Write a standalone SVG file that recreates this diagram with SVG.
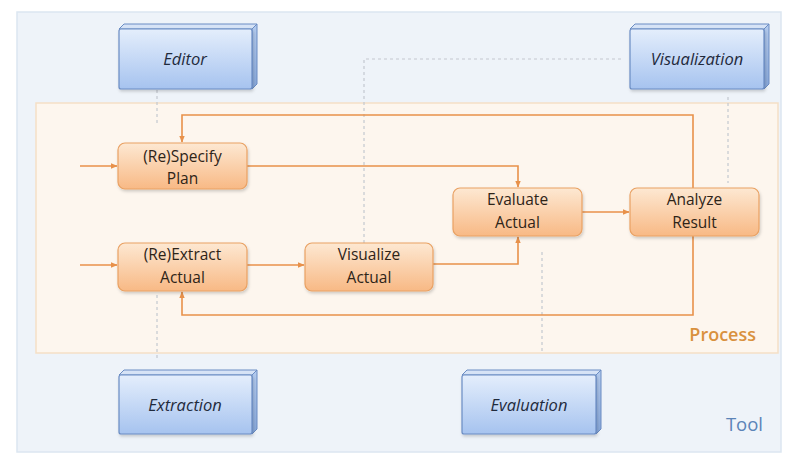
<svg xmlns="http://www.w3.org/2000/svg" width="786" height="461" viewBox="0 0 786 461">
  <defs>
    <linearGradient id="gStep" x1="0" y1="0" x2="0" y2="1">
      <stop offset="0" stop-color="#fde8d2"/>
      <stop offset="1" stop-color="#f8b985"/>
    </linearGradient>
    <linearGradient id="gTool" x1="0" y1="0" x2="0" y2="1">
      <stop offset="0" stop-color="#e4eefc"/>
      <stop offset="1" stop-color="#a6c3ef"/>
    </linearGradient>
    <linearGradient id="gSide" x1="0" y1="0" x2="0" y2="1">
      <stop offset="0" stop-color="#b4cbee"/>
      <stop offset="1" stop-color="#86a6d8"/>
    </linearGradient>
    <marker id="arr" viewBox="0 0 10 10" refX="9" refY="5" markerWidth="7" markerHeight="7" orient="auto" markerUnits="userSpaceOnUse">
      <path d="M0,1 L10,5 L0,9 z" fill="#e8914a"/>
    </marker>
    <filter id="sh" x="-10%" y="-10%" width="130%" height="140%">
      <feDropShadow dx="1" dy="2" stdDeviation="1.5" flood-color="#000" flood-opacity="0.18"/>
    </filter>
  </defs>
  <style>
    .step rect { fill: url(#gStep); stroke: #e9a163; stroke-width: 1.2; }
    .step text { font-family: "Open Sans", "Liberation Sans", sans-serif; font-size: 15.5px; fill: #2e2418; text-anchor: middle; }
    .tool .front { fill: url(#gTool); stroke: #6a8cc3; stroke-width: 1.2; }
    .tool .top { fill: #d6e3f6; stroke: #6a8cc3; stroke-width: 1; }
    .tool .side { fill: url(#gSide); stroke: #6a8cc3; stroke-width: 1; }
    .tool text { font-family: "Open Sans", "Liberation Sans", sans-serif; font-size: 16.5px; font-style: italic; fill: #1f2a3c; text-anchor: middle; }
    .flow { fill: none; stroke: #e8914a; stroke-width: 1.6; }
    .link { fill: none; stroke: #c3c8d0; stroke-width: 1.2; stroke-dasharray: 3 3; }
  </style>

  <rect width="786" height="461" fill="#ffffff"/>

  <!-- Tool layer -->
  <g id="tool-panel">
    <rect x="17" y="12" width="764" height="440" fill="#eef3f9" stroke="#dce6f1" stroke-width="1.5"/>
    <text x="763" y="431" font-family="Open Sans, Liberation Sans, sans-serif" font-size="18.5" fill="#5b84b8" text-anchor="end">Tool</text>
  </g>

  <!-- Process layer -->
  <g id="process-panel">
    <rect x="36" y="103" width="742" height="250" fill="#fdf6ee" stroke="#f5dfc6" stroke-width="1.5"/>
    <text x="756" y="341" font-family="Open Sans, Liberation Sans, sans-serif" font-size="18" font-weight="600" fill="#d9913e" text-anchor="end">Process</text>
  </g>

  <!-- Connectors -->
  <g id="connectors">
    <!-- tool links -->
    <path class="link" d="M157,90 V124"/>
    <path class="link" d="M157,295 V358"/>
    <path class="link" d="M364,243 V59 H622"/>
    <path class="link" d="M728,97 V183"/>
    <path class="link" d="M542,252 V353"/>
    <!-- process flow -->
    <path class="flow" d="M80,166 H117" marker-end="url(#arr)"/>
    <path class="flow" d="M80,265 H117" marker-end="url(#arr)"/>
    <path class="flow" d="M693,188 V115 H182 V142" marker-end="url(#arr)"/>
    <path class="flow" d="M247,166 H518 V187" marker-end="url(#arr)"/>
    <path class="flow" d="M247,265 H304" marker-end="url(#arr)"/>
    <path class="flow" d="M433,264 H518 V237" marker-end="url(#arr)"/>
    <path class="flow" d="M582,212 H629" marker-end="url(#arr)"/>
    <path class="flow" d="M693,236 V315 H182 V292" marker-end="url(#arr)"/>
  </g>

  <!-- Tools -->
  <g id="editor" class="tool">
    <path class="top" d="M119,29 L124,24 H257 L252,29 Z"/>
    <path class="side" d="M252,29 L257,24 V84 L252,89 Z"/>
    <rect class="front" x="119" y="29" width="133" height="60" rx="2" filter="url(#sh)"/>
    <text x="185" y="65">Editor</text>
  </g>
  <g id="visualization" class="tool">
    <path class="top" d="M630,29 L635,24 H769 L764,29 Z"/>
    <path class="side" d="M764,29 L769,24 V84 L764,89 Z"/>
    <rect class="front" x="630" y="29" width="134" height="60" rx="2" filter="url(#sh)"/>
    <text x="697" y="65">Visualization</text>
  </g>
  <g id="extraction" class="tool">
    <path class="top" d="M119,375 L124,370 H257 L252,375 Z"/>
    <path class="side" d="M252,375 L257,370 V429 L252,434 Z"/>
    <rect class="front" x="119" y="375" width="133" height="59" rx="2" filter="url(#sh)"/>
    <text x="185" y="411">Extraction</text>
  </g>
  <g id="evaluation" class="tool">
    <path class="top" d="M462,375 L467,370 H601 L596,375 Z"/>
    <path class="side" d="M596,375 L601,370 V429 L596,434 Z"/>
    <rect class="front" x="462" y="375" width="134" height="59" rx="2" filter="url(#sh)"/>
    <text x="529" y="411">Evaluation</text>
  </g>

  <!-- Process steps -->
  <g id="specify-plan" class="step">
    <rect x="118" y="143" width="129" height="46" rx="7" filter="url(#sh)"/>
    <text x="182.5" y="162">(Re)Specify</text>
    <text x="182.5" y="184">Plan</text>
  </g>
  <g id="extract-actual" class="step">
    <rect x="118" y="243" width="129" height="48" rx="7" filter="url(#sh)"/>
    <text x="182.5" y="260">(Re)Extract</text>
    <text x="182.5" y="283">Actual</text>
  </g>
  <g id="visualize-actual" class="step">
    <rect x="305" y="243" width="128" height="48" rx="7" filter="url(#sh)"/>
    <text x="369" y="260">Visualize</text>
    <text x="369" y="283">Actual</text>
  </g>
  <g id="evaluate-actual" class="step">
    <rect x="453" y="188" width="129" height="48" rx="7" filter="url(#sh)"/>
    <text x="517.5" y="205">Evaluate</text>
    <text x="517.5" y="228">Actual</text>
  </g>
  <g id="analyze-result" class="step">
    <rect x="630" y="188" width="129" height="48" rx="7" filter="url(#sh)"/>
    <text x="694.5" y="205">Analyze</text>
    <text x="694.5" y="228">Result</text>
  </g>
</svg>
